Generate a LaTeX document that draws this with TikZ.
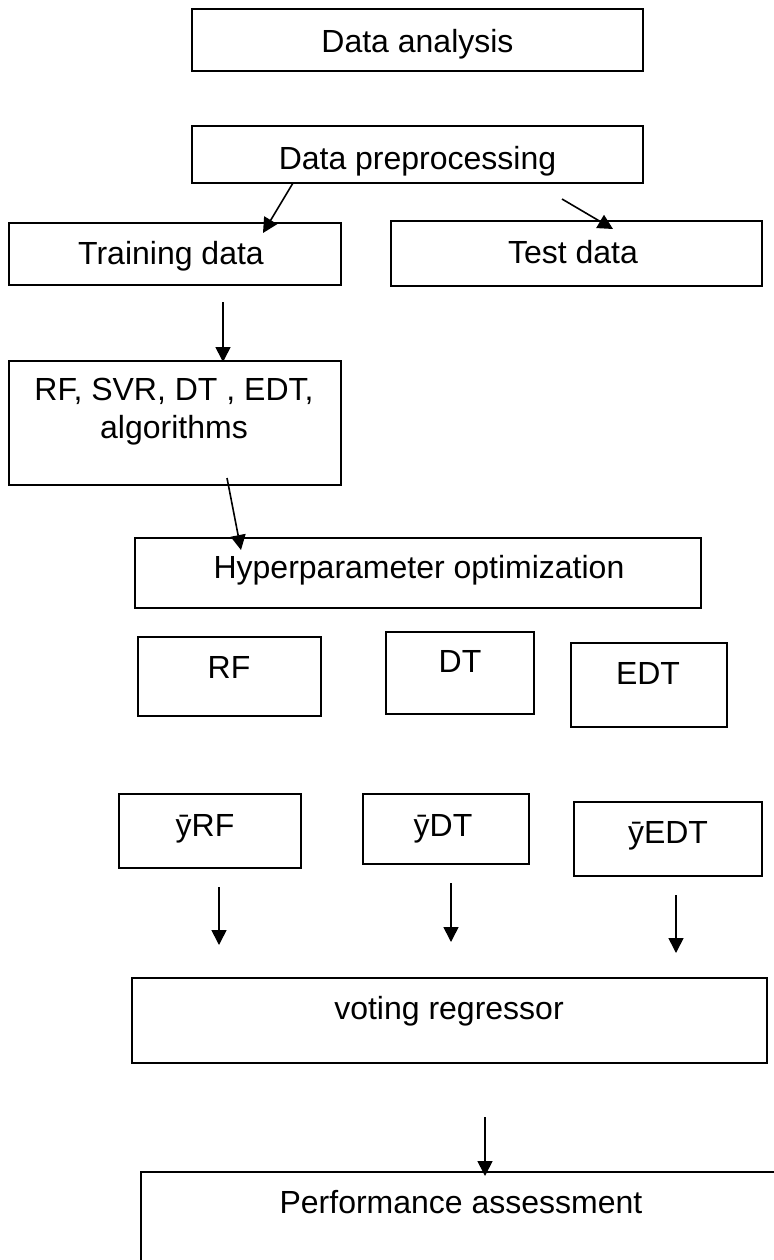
\documentclass[tikz,border=0pt]{standalone}
\usepackage{fontspec}
\setmainfont{Liberation Sans}
\usetikzlibrary{arrows.meta}
\begin{document}
\begin{tikzpicture}[x=0.5pt,y=-0.5pt,
  boxnode/.style={draw=black, line width=0.9pt, inner sep=0pt, outer sep=0pt},
  txt/.style={inner sep=0pt, font=\fontsize{16}{19}\selectfont, text height=11.5pt, text depth=0pt},
  arr/.style={draw=black, line width=0.8pt, -{Triangle[width=7.5pt,length=7.5pt]}}]
\clip (0,0) rectangle (774,1260);
\useasboundingbox (0,0) rectangle (774,1260);
\fill[white] (0,0) rectangle (774,1260);
% boxes
\node[boxnode, minimum width=225.5pt, minimum height=31pt] (da) at (417.5,40) {};
\node[boxnode, minimum width=225.5pt, minimum height=28.5pt] (dp) at (417.5,154.5) {};
\node[boxnode, minimum width=166pt, minimum height=31pt] (tr) at (175,254) {};
\node[boxnode, minimum width=185.5pt, minimum height=32.5pt] (te) at (576.5,253.5) {};
\node[boxnode, minimum width=166pt, minimum height=62pt] (alg) at (175,423) {};
\node[boxnode, minimum width=283pt, minimum height=35pt] (hy) at (418,573) {};
\node[boxnode, minimum width=91.5pt, minimum height=39.5pt] (rf) at (229.5,676.5) {};
\node[boxnode, minimum width=74pt, minimum height=41pt] (dt) at (460,673) {};
\node[boxnode, minimum width=78pt, minimum height=42pt] (edt) at (649,685) {};
\node[boxnode, minimum width=91pt, minimum height=37pt] (yrf) at (210,831) {};
\node[boxnode, minimum width=83pt, minimum height=35pt] (ydt) at (446,829) {};
\node[boxnode, minimum width=94pt, minimum height=37pt] (yedt) at (668,839) {};
\node[boxnode, minimum width=317.5pt, minimum height=42.5pt] (vr) at (449.5,1020.5) {};
\node[boxnode, minimum width=329.5pt, minimum height=64pt] (pa) at (470.5,1236) {};
% texts
\node[txt] (tda) at (417.5,41) {Data analysis};
\node[txt] (tdp) at (417.5,158) {Data preprocessing};
\node[txt] (ttr) at (171,253) {Training data};
\node[txt] (tte) at (573,252) {Test data};
\node[inner sep=0pt, font=\fontsize{16}{19}\selectfont, align=center] (talg) at (174,412) {RF, SVR, DT , EDT,\\algorithms};
\node[txt] (thy) at (419,567) {Hyperparameter optimization};
\node[txt] (trf) at (229,667) {RF};
\node[txt] (tdt) at (460,661) {DT};
\node[txt] (tedt) at (648,673) {EDT};
\node[txt] (tyrf) at (205,825) {ȳRF};
\node[txt] (tydt) at (443,825) {ȳDT};
\node[txt] (tyedt) at (668,832) {ȳEDT};
\node[txt] (tvr) at (449,1008) {voting regressor};
\node[txt] (tpa) at (461,1202) {Performance assessment};
% connector ends
\coordinate (a1s) at (293,183); \coordinate (a1e) at (263,233);
\coordinate (a2s) at (562,199); \coordinate (a2e) at (613,229);
\coordinate (a3s) at (223,302); \coordinate (a3e) at (223,362);
\coordinate (a4s) at (227,478); \coordinate (a4e) at (241,550);
\coordinate (a5s) at (219,887); \coordinate (a5e) at (219,945);
\coordinate (a6s) at (451,883); \coordinate (a6e) at (451,942);
\coordinate (a7s) at (676,895); \coordinate (a7e) at (676,953);
\coordinate (a8s) at (485,1117); \coordinate (a8e) at (485,1176);
\draw[arr] (a1s) -- (a1e);
\draw[arr] (a2s) -- (a2e);
\draw[arr] (a3s) -- (a3e);
\draw[arr] (a4s) -- (a4e);
\draw[arr] (a5s) -- (a5e);
\draw[arr] (a6s) -- (a6e);
\draw[arr] (a7s) -- (a7e);
\draw[arr] (a8s) -- (a8e);
\end{tikzpicture}
\end{document}
